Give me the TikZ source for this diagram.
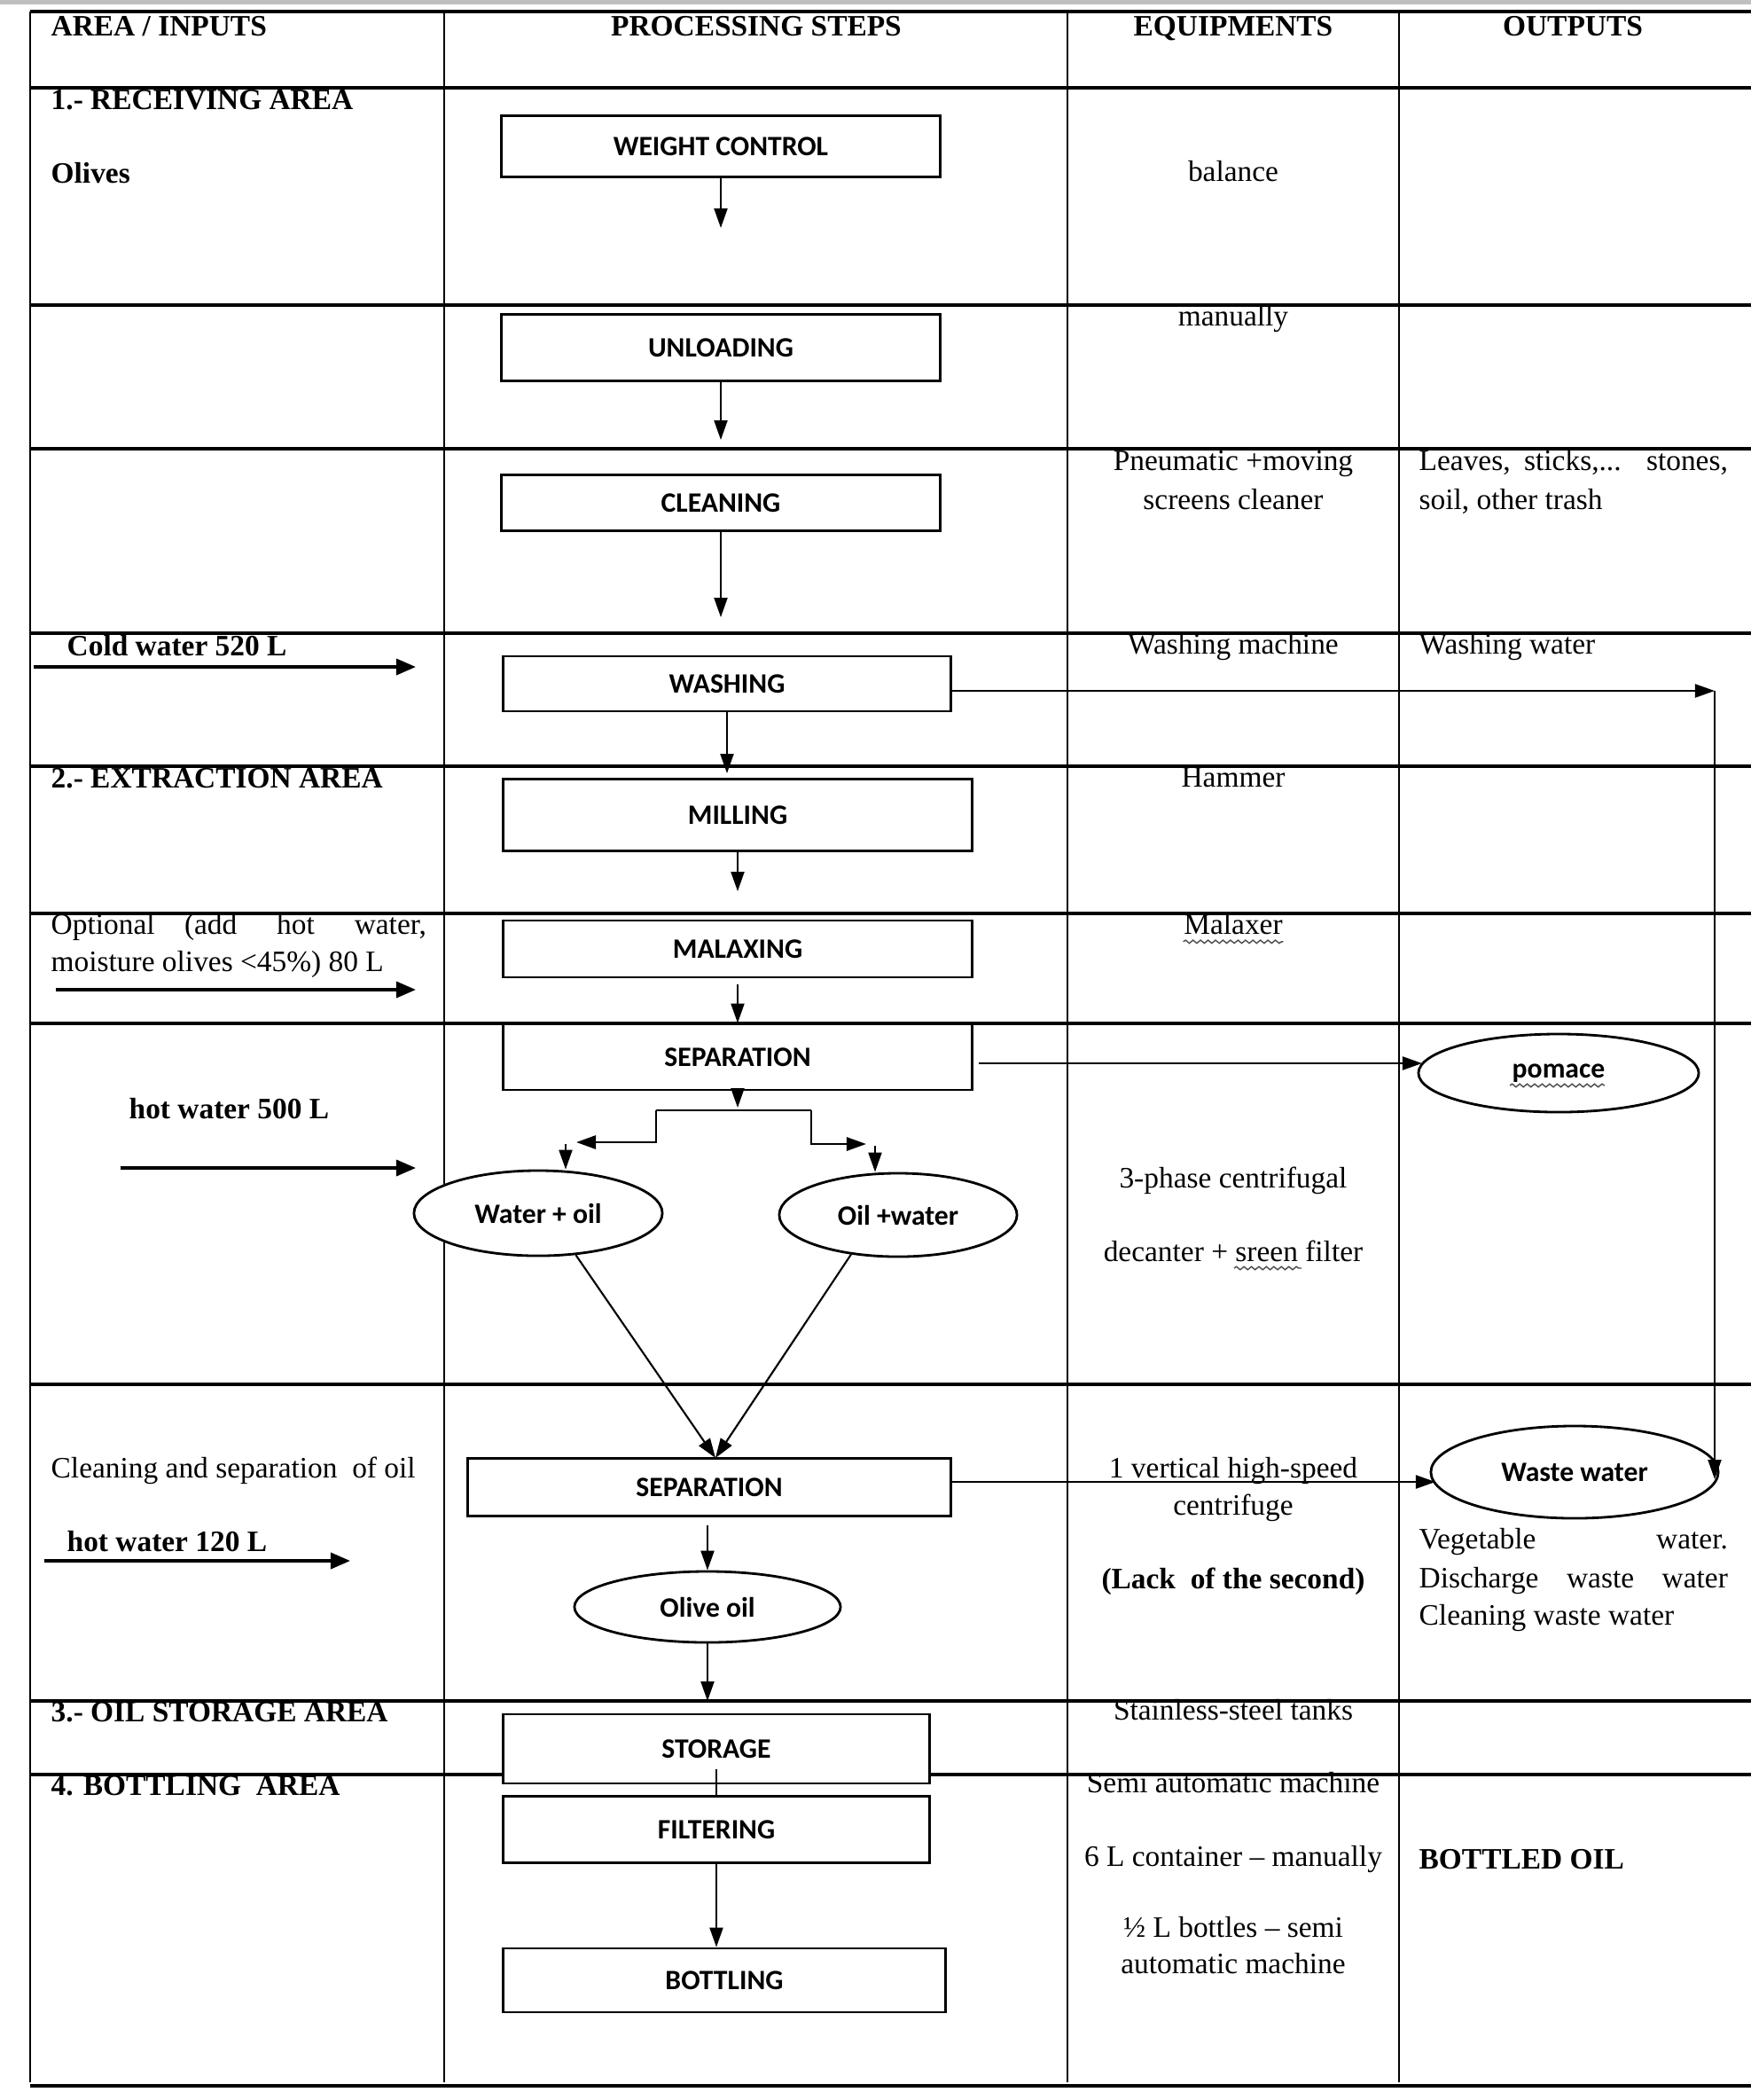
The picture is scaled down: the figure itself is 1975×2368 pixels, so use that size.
\documentclass[tikz,border=0pt]{standalone}
\usepackage{fontspec}
\setmainfont{Liberation Serif}
\newfontfamily\boxfont{Carlito}
\usetikzlibrary{shapes.geometric,arrows.meta,decorations.pathmorphing}
\begin{document}
\begin{tikzpicture}[x=0.01cm,y=-0.01cm,
  hl/.style={line width=0.9pt},
  vl/.style={line width=0.6pt},
  pbox/.style={draw,line width=0.8pt,fill=white,inner sep=0pt,font=\boxfont\bfseries\fontsize{9}{11}\selectfont},
  oval/.style={ellipse,draw,line width=0.8pt,fill=white,inner sep=0pt,font=\boxfont\bfseries\fontsize{9}{11}\selectfont},
  txt/.style={inner sep=0pt,font=\fontsize{9.5}{12.5}\selectfont},
  btxt/.style={inner sep=0pt,font=\bfseries\fontsize{9.5}{12.5}\selectfont},
  arr/.style={-{Triangle[length=0.22cm,width=0.15cm]},line width=0.6pt},
  inarr/.style={-{Triangle[length=0.22cm,width=0.18cm]},line width=1pt},
  wavy/.style={decorate,decoration={snake,amplitude=0.5pt,segment length=2.4pt},line width=0.4pt,black!70}
]
\useasboundingbox (0,0) rectangle (1975,2368);
\fill[black!25] (0,0) rectangle (1975,5);

% ---------- table grid ----------
\foreach \yy in {13,99,344,506,714,864,1030,1154,1561,1918,2001,2352}
  \draw[hl] (34,\yy) -- (1975,\yy);
\foreach \xx in {34,501,1204,1578}
  \draw[vl] (\xx,13) -- (\xx,2348);

% ---------- header ----------
\node[btxt,anchor=mid west] (h1) at (57,32) {AREA / INPUTS};
\node[btxt,anchor=mid] (h2) at (853,32) {PROCESSING STEPS};
\node[btxt,anchor=mid] (h3) at (1391,32) {EQUIPMENTS};
\node[btxt,anchor=mid] (h4) at (1774,32) {OUTPUTS};

% ---------- area / inputs ----------
\node[btxt,anchor=mid west] (a1) at (57,115) {1.- RECEIVING AREA};
\node[btxt,anchor=mid west] (a2) at (57,198) {Olives};
\node[btxt,anchor=mid west] (a3) at (75,731) {Cold water 520 L};
\node[btxt,anchor=mid west] (a4) at (57,880) {2.- EXTRACTION AREA};
\node[txt,anchor=mid west] (a5) at (57,1045) {\makebox[4.23cm][s]{Optional\quad (add hot water,}};
\node[txt,anchor=mid west] (a6) at (57,1087) {moisture olives <45\%) 80 L};
\node[btxt,anchor=mid west] (a7) at (145,1253) {hot water 500 L};
\node[txt,anchor=mid west] (a8) at (57,1658) {Cleaning and separation\ \ of oil};
\node[btxt,anchor=mid west] (a9) at (75,1741) {hot water 120 L};
\node[btxt,anchor=mid west] (a10) at (57,1933) {3.- OIL STORAGE AREA};
\node[btxt,anchor=mid west] (a11) at (57,2016) {4. BOTTLING\ \ AREA};

% ---------- equipments ----------
\node[txt,anchor=mid] (q1) at (1391,196) {balance};
\node[txt,anchor=mid] (q2) at (1391,359) {manually};
\node[txt,anchor=mid] (q3) at (1391,522) {Pneumatic +moving};
\node[txt,anchor=mid] (q4) at (1391,566) {screens cleaner};
\node[txt,anchor=mid] (q5) at (1391,729) {Washing machine};
\node[txt,anchor=mid] (q6) at (1391,879) {Hammer};
\node[txt,anchor=mid] (q7) at (1391,1045) {Malaxer};
\node[txt,anchor=mid] (q8) at (1391,1331) {3-phase centrifugal};
\node[txt,anchor=mid] (q9) at (1391,1414) {decanter + sreen filter};
\node[txt,anchor=mid] (q10) at (1391,1658) {1 vertical high-speed};
\node[txt,anchor=mid] (q11) at (1391,1700) {centrifuge};
\node[btxt,anchor=mid] (q12) at (1391,1783) {(Lack\ \ of the second)};
\node[txt,anchor=mid] (q13) at (1391,1931) {Stainless-steel tanks};
\node[txt,anchor=mid] (q14) at (1391,2013) {Semi automatic machine};
\node[txt,anchor=mid] (q15) at (1391,2096) {6 L container – manually};
\node[txt,anchor=mid] (q16) at (1391,2176) {½ L bottles – semi};
\node[txt,anchor=mid] (q17) at (1391,2217) {automatic machine};

% ---------- outputs ----------
\node[txt,anchor=mid west] (o1) at (1600,522) {\makebox[3.48cm][s]{Leaves, sticks,... stones,}};
\node[txt,anchor=mid west] (o2) at (1600,566) {soil, other trash};
\node[txt,anchor=mid west] (o3) at (1600,729) {Washing water};
\node[txt,anchor=mid west] (o4) at (1600,1738) {\makebox[3.48cm][s]{Vegetable water.}};
\node[txt,anchor=mid west] (o5) at (1600,1782) {\makebox[3.48cm][s]{Discharge waste water}};
\node[txt,anchor=mid west] (o6) at (1600,1824) {Cleaning waste water};
\node[btxt,anchor=mid west] (o7) at (1600,2099) {BOTTLED OIL};

% ---------- process boxes ----------
\node[pbox,minimum width=4.94cm,minimum height=0.69cm] (wc) at (813,165) {WEIGHT CONTROL};
\node[pbox,minimum width=4.94cm,minimum height=0.75cm] (unl) at (813,392) {UNLOADING};
\node[pbox,minimum width=4.94cm,minimum height=0.63cm] (cln) at (813,567) {CLEANING};
\node[pbox,minimum width=5.05cm,minimum height=0.62cm] (wsh) at (820,771) {WASHING};
\node[pbox,minimum width=5.29cm,minimum height=0.81cm] (mil) at (832,919) {MILLING};
\node[pbox,minimum width=5.29cm,minimum height=0.64cm] (mal) at (832,1070) {MALAXING};
\node[pbox,minimum width=5.29cm,minimum height=0.74cm] (sep1) at (832,1192) {SEPARATION};
\node[pbox,minimum width=5.45cm,minimum height=0.65cm] (sep2) at (800,1677) {SEPARATION};
\node[pbox,minimum width=4.81cm,minimum height=0.78cm] (sto) at (808,1972) {STORAGE};
\node[pbox,minimum width=4.81cm,minimum height=0.75cm] (fil) at (808,2063) {FILTERING};
\node[pbox,minimum width=4.99cm,minimum height=0.72cm] (bot) at (817,2233) {BOTTLING};

% ---------- ellipses ----------
\node[oval,minimum width=2.80cm,minimum height=0.96cm] (wo) at (607,1368) {Water + oil};
\node[oval,minimum width=2.68cm,minimum height=0.94cm] (ow) at (1013,1370) {Oil +water};
\node[oval,minimum width=3.16cm,minimum height=0.88cm] (pom) at (1758,1210) {pomace};
\node[oval,minimum width=3.24cm,minimum height=1.04cm] (ww) at (1776,1660) {Waste water};
\node[oval,minimum width=3.00cm,minimum height=0.80cm] (oo) at (798,1812) {Olive oil};

% ---------- spell-check underlines ----------
\draw[wavy] ([yshift=-2.5pt]q7.base west) -- ([yshift=-2.5pt]q7.base east);
\draw[wavy] (1392,1430) -- (1468,1430);
\draw[wavy] (1703,1224) -- (1810,1224);

% ---------- named free ends ----------
\coordinate (e1) at (0,257);
\coordinate (e2) at (0,496);
\coordinate (e3) at (0,696);
\coordinate (e4) at (0,872);
\coordinate (e5) at (0,1005);
\coordinate (j0) at (0,1249);
\coordinate (jl) at (740,1252);
\coordinate (jr) at (915,1252);
\coordinate (jlb) at (740,1288);
\coordinate (jlt) at (650,1288);
\coordinate (jrb) at (915,1290);
\coordinate (jrt) at (977,1290);
\coordinate (wo1) at (638,1290);
\coordinate (ow1) at (987,1292);
\coordinate (pa) at (1604,1199);
\coordinate (pb) at (1104,1199);
\coordinate (wr) at (1934,779);
\coordinate (wwr) at (1934,1668);
\coordinate (wl) at (1619,1671);
\coordinate (jt) at (807,1644);
\coordinate (os) at (798,1720);
\coordinate (st) at (0,1918);
\coordinate (sin) at (808,1995);
\coordinate (c1) at (38,752);  \coordinate (c2) at (469,752);
\coordinate (c3) at (63,1116); \coordinate (c4) at (469,1116);
\coordinate (c5) at (136,1317);\coordinate (c6) at (469,1317);
\coordinate (c7) at (50,1760); \coordinate (c8) at (395,1760);

% ---------- connectors ----------
\draw[arr] (wc.south) -- (wc.south |- e1);
\draw[arr] (unl.south) -- (unl.south |- e2);
\draw[arr] (cln.south) -- (cln.south |- e3);
\draw[arr] (wsh.south) -- (wsh.south |- e4);
\draw[arr] (mil.south) -- (mil.south |- e5);
\draw[arr] ([yshift=-0.07cm]mal.south) -- (sep1.north);
\draw[arr] (sep1.south) -- (sep1.south |- j0);
\draw[line width=0.8pt] (jl) -- (jr);
\draw[arr,line width=0.8pt] (jl) -- (jlb) -- (jlt);
\draw[arr,line width=0.8pt] (jr) -- (jrb) -- (jrt);
\draw[arr] (wo1) -- (wo.north -| wo1);
\draw[arr] (ow1) -- (ow.north -| ow1);
\draw[arr] (pb) -- (pa);
\draw[arr] (wsh.east |- wr) -- (wr);
\draw[arr] (wr) -- (wwr);
\draw[arr] (wo.312) -- (jt);
\draw[arr] (ow.220) -- (jt);
\draw[arr] (sep2.east |- wl) -- (wl);
\draw[arr] (os) -- (oo.north);
\draw[arr] (oo.south) -- (oo.south |- st);
\draw[line width=0.6pt] (sin) -- (fil.north);
\draw[arr] (fil.south) -- (fil.south |- bot.north);
\draw[inarr] (c1) -- (c2);
\draw[inarr] (c3) -- (c4);
\draw[inarr] (c5) -- (c6);
\draw[inarr] (c7) -- (c8);
\end{tikzpicture}
\end{document}
